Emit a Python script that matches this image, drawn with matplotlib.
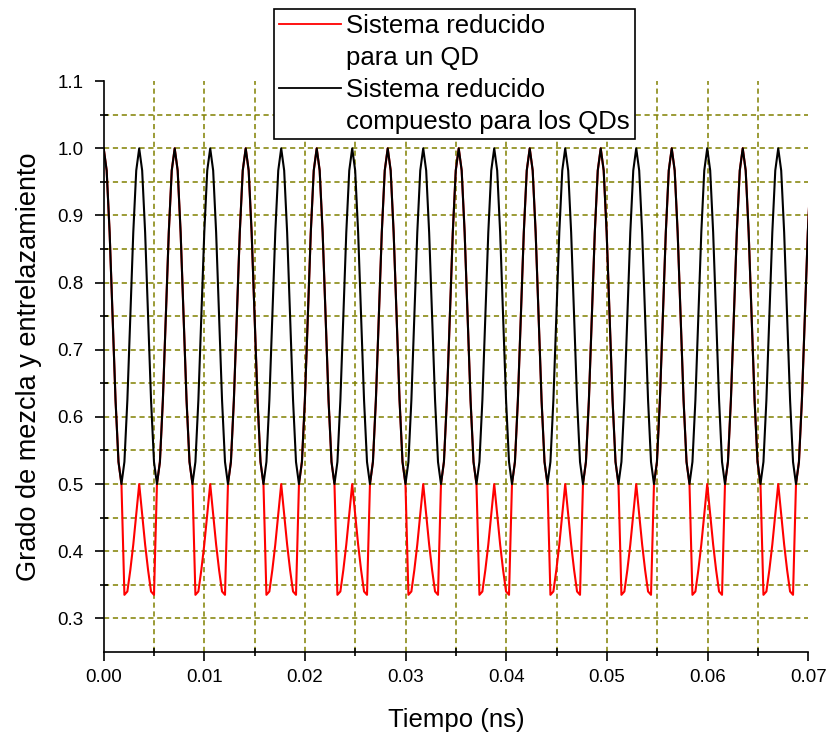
import numpy as np
import matplotlib
matplotlib.use("Agg")
import matplotlib.pyplot as plt
from matplotlib.lines import Line2D

plt.rcParams['font.family'] = ['Liberation Sans', 'DejaVu Sans']

# Oscillation period of the composite (two-QD) system, ns
black_period_ns = 0.003527

# One period of the two-QD composite purity (12 samples per period)
black_cycle = [1.0, 0.967, 0.875, 0.75, 0.625, 0.533,
               0.5, 0.533, 0.625, 0.75, 0.875, 0.967]

# One full cycle of the single-QD purity (spans two composite periods, 24 samples)
red_cycle = [1.0, 0.967, 0.875, 0.75, 0.625, 0.533,
             0.5, 0.335, 0.34, 0.372, 0.41, 0.455,
             0.5, 0.455, 0.41, 0.372, 0.34, 0.335,
             0.5, 0.533, 0.625, 0.75, 0.875, 0.967]

t_end = 0.07
x_ticks = [0.00, 0.01, 0.02, 0.03, 0.04, 0.05, 0.06, 0.07]
x_ticklabels = ["0.00", "0.01", "0.02", "0.03", "0.04", "0.05", "0.06", "0.07"]
y_ticks = [0.3, 0.4, 0.5, 0.6, 0.7, 0.8, 0.9, 1.0, 1.1]
y_ticklabels = ["0.3", "0.4", "0.5", "0.6", "0.7", "0.8", "0.9", "1.0", "1.1"]

label_red = ["Sistema reducido", "para un QD"]
label_black = ["Sistema reducido", "compuesto para los QDs"]

# ---- build the sampled series -------------------------------------------
n_black = len(black_cycle)
dt = black_period_ns / n_black
n_red_cycles = int(np.ceil(t_end / (2 * black_period_ns))) + 1
red = np.tile(red_cycle, n_red_cycles)
black = np.tile(black_cycle, 2 * n_red_cycles)
t = np.arange(len(red)) * dt
keep = t <= t_end + dt
t, red, black = t[keep], red[keep], black[keep]

# ---- figure ---------------------------------------------------------------
W, H = 830, 736
fig = plt.figure(figsize=(W / 100, H / 100), dpi=100)
ax = fig.add_axes([103.7 / W, 1 - 651.9 / H, (808.3 - 103.7) / W, (651.9 - 81.2) / H])

ax.set_xlim(0, t_end)
ax.set_ylim(0.25, 1.1)

grid_color = '#808000'
x_minor = [x + 0.005 for x in x_ticks[:-1]]
y_minor = [0.35, 0.45, 0.55, 0.65, 0.75, 0.85, 0.95, 1.05]
for xv in sorted(x_ticks[1:-1] + x_minor):
    ax.axvline(xv, color=grid_color, lw=1.1, ls=(0, (3.4, 2.4)), zorder=0.5)
for yv in sorted(y_ticks[:-1] + y_minor):
    ax.axhline(yv, color=grid_color, lw=1.1, ls=(0, (3.4, 2.4)), zorder=0.5)

ax.plot(t, red, color='#ff0000', lw=1.5, zorder=2, clip_on=True)
ax.plot(t, black, color='#000000', lw=1.5, zorder=3, clip_on=True)

ax.set_xticks(x_ticks)
ax.set_xticklabels(x_ticklabels)
ax.set_xticks(x_minor, minor=True)
ax.set_yticks(y_ticks)
ax.set_yticklabels(y_ticklabels)
ax.set_yticks(y_minor, minor=True)

for side in ('top', 'right'):
    ax.spines[side].set_visible(False)
for side in ('left', 'bottom'):
    ax.spines[side].set_linewidth(1.2)

ax.tick_params(which='major', direction='out', length=6.3, width=1.2,
               labelsize=13.5, colors='black')
ax.tick_params(axis='y', which='major', pad=8)
ax.tick_params(axis='x', which='major', pad=6)
ax.tick_params(which='minor', direction='inout', length=6, width=1.2)

ax.set_xlabel("Tiempo (ns)", fontsize=18.5, labelpad=16)
ax.set_ylabel("Grado de mezcla y entrelazamiento", fontsize=19.5, labelpad=11)

handles = [Line2D([], [], color='#ff0000', lw=1.3),
           Line2D([], [], color='none'),
           Line2D([], [], color='#000000', lw=1.3),
           Line2D([], [], color='none')]
labels = [label_red[0], label_red[1], label_black[0], label_black[1]]
leg = fig.legend(handles, labels, loc='upper left',
                 bbox_to_anchor=(274 / W, 1 - 9.3 / H), bbox_transform=fig.transFigure,
                 frameon=True, fancybox=False, edgecolor='black', framealpha=1,
                 fontsize=18.5, handlelength=2.4, handletextpad=0.2,
                 borderpad=0.2, labelspacing=0.3, borderaxespad=0)
leg.get_frame().set_linewidth(1.2)

fig.savefig("out.png", dpi=100)
